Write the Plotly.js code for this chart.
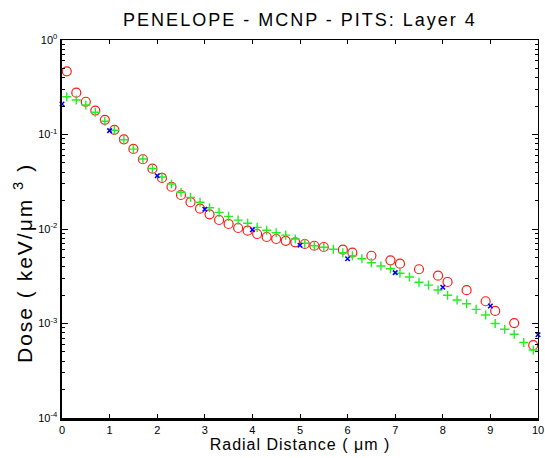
<!DOCTYPE html>
<html>
<head>
<meta charset="utf-8">
<script src="https://cdn.plot.ly/plotly-3.0.1.min.js"></script>
<style>
html,body{margin:0;padding:0;background:#fff;}
#chart{width:545px;height:458px;}
#chart .gtitle{letter-spacing:2px;}
#chart .xtitle{letter-spacing:1px;}
#chart .annotation-text{letter-spacing:2px;}
</style>
</head>
<body>
<div id="chart"></div>
<script>
// PENELOPE (red circles)
const penX = [0.1,0.3,0.5,0.7,0.9,1.1,1.3,1.5,1.7,1.9,2.1,2.3,2.5,2.7,2.9,3.1,3.3,3.5,3.7,3.9,4.1,4.3,4.5,4.7,4.9,5.1,5.3,5.5,5.9,6.1,6.5,6.9,7.1,7.5,7.9,8.1,8.5,8.9,9.1,9.5,9.9];
const penY = [0.466,0.277,0.222,0.179,0.143,0.112,0.089,0.0703,0.0547,0.0435,0.0347,0.0280,0.0229,0.0192,0.0164,0.0143,0.01245,0.0113,0.01025,0.0096,0.00885,0.00823,0.00784,0.0075,0.00723,0.00694,0.00665,0.00645,0.00604,0.00561,0.00521,0.00466,0.0043,0.00375,0.00321,0.00275,0.00225,0.00172,0.00136,0.00101,0.00059];
// MCNP (green crosses)
const mcnpX = [0.1,0.3,0.5,0.7,0.9,1.1,1.3,1.5,1.7,1.9,2.1,2.3,2.5,2.7,2.9,3.1,3.3,3.5,3.7,3.9,4.1,4.3,4.5,4.7,4.9,5.1,5.3,5.5,5.7,5.9,6.1,6.3,6.5,6.7,6.9,7.1,7.3,7.5,7.7,7.9,8.1,8.3,8.5,8.7,8.9,9.1,9.3,9.5,9.7,9.9];
const mcnpY = [0.251,0.232,0.205,0.172,0.138,0.111,0.088,0.070,0.055,0.0437,0.0355,0.0299,0.0245,0.0216,0.0192,0.0168,0.0150,0.0136,0.0124,0.0115,0.0104,0.0097,0.00914,0.00862,0.00784,0.00706,0.00665,0.0064,0.0061,0.00561,0.00521,0.00485,0.0044,0.00406,0.0038,0.0034,0.0031,0.00273,0.00255,0.00226,0.00199,0.00177,0.00162,0.00141,0.00123,0.00100,0.00087,0.00077,0.00063,0.000525];
// PITS (blue x)
const pitsX = [0,1,2,3,4,5,6,7,8,9,10];
const pitsY = [0.210,0.110,0.0366,0.0162,0.00983,0.00673,0.00485,0.00345,0.00242,0.00153,0.00076];

const yTickVals = [1,0.1,0.01,0.001,0.0001];
const yTickText = ['10<sup>0</sup>','10<sup>-1</sup>','10<sup>-2</sup>','10<sup>-3</sup>','10<sup>-4</sup>'];
const xTickVals = [0,1,2,3,4,5,6,7,8,9,10];

const yMinor = [];
for (const d of [0.0001,0.001,0.01,0.1]) for (let k=2;k<=9;k++) yMinor.push(+(d*k).toPrecision(3));

const font = 'Liberation Sans, Arial, Helvetica, sans-serif';

const traces = [
  {x: penX, y: penY, type:'scatter', mode:'markers', name:'PENELOPE', cliponaxis:false,
   marker:{symbol:'circle-open', size:9, color:'#ff1a1a', line:{width:1.2, color:'#ff1a1a'}}},
  {x: mcnpX, y: mcnpY, type:'scatter', mode:'markers', name:'MCNP', cliponaxis:false,
   marker:{symbol:'cross-thin-open', size:6.5, color:'#22ee22', line:{width:1.4, color:'#22ee22'}}},
  {x: pitsX, y: pitsY, type:'scatter', mode:'markers', name:'PITS', cliponaxis:false,
   marker:{symbol:'x-thin-open', size:4.5, color:'#0000ff', line:{width:1.6, color:'#0000ff'}}}
];

const layout = {
  width:545, height:458,
  margin:{l:62, r:7, t:40, b:40},
  paper_bgcolor:'#fff', plot_bgcolor:'#fff',
  showlegend:false,
  font:{family:font, color:'#000', size:11},
  title:{text:'PENELOPE - MCNP - PITS: Layer 4', font:{family:font, size:18, color:'#000'},
         x:0.5, xref:'paper', xanchor:'center', y:0.958, yref:'container', yanchor:'middle'},
  xaxis:{range:[0,10], tickmode:'array', tickvals:xTickVals, ticks:'inside', ticklen:4, tickwidth:1, tickcolor:'#000',
         showline:true, linewidth:2.5, linecolor:'#000', mirror:false, showgrid:false, zeroline:false,
         tickfont:{family:font, size:11, color:'#000'},
         title:{text:'Radial Distance ( μm )', font:{family:font, size:16, color:'#000'}, standoff:2}},
  xaxis2:{overlaying:'x', side:'top', range:[0,10], tickmode:'array', tickvals:xTickVals, ticks:'inside', ticklen:4, tickwidth:1,
         tickcolor:'#000', showticklabels:false, showline:true, linewidth:1, linecolor:'#000', showgrid:false, zeroline:false, matches:'x'},
  yaxis:{type:'log', range:[-4,0], tickmode:'array', tickvals:yTickVals, ticktext:yTickText, ticks:'inside', ticklen:6, tickwidth:1,
         tickcolor:'#000', showline:true, linewidth:2.5, linecolor:'#000', showgrid:false, zeroline:false,
         tickfont:{family:font, size:11, color:'#000'},
         minor:{tickmode:'array', tickvals:yMinor, ticks:'inside', ticklen:3, tickwidth:1, tickcolor:'#000', showgrid:false}},
  yaxis2:{type:'log', overlaying:'y', side:'right', range:[-4,0], tickmode:'array', tickvals:yTickVals, ticks:'inside', ticklen:6,
         tickwidth:1, tickcolor:'#000', showticklabels:false, showline:true, linewidth:1, linecolor:'#000', showgrid:false, zeroline:false,
         minor:{tickmode:'array', tickvals:yMinor, ticks:'inside', ticklen:3, tickwidth:1, tickcolor:'#000', showgrid:false}},
  annotations:[{text:'Dose ( keV/μm <sup>3</sup> )', textangle:-90, showarrow:false,
    xref:'paper', yref:'paper', x:0, y:0.41, xanchor:'center', yanchor:'middle', xshift:-39,
    font:{family:font, size:21, color:'#000'}}]
};

// invisible trace to activate the top/right frame axes
traces.push({x:[], y:[], xaxis:'x2', yaxis:'y2', type:'scatter', mode:'markers', hoverinfo:'skip', showlegend:false});

Plotly.newPlot('chart', traces, layout, {displayModeBar:false, staticPlot:true});
</script>
</body>
</html>
